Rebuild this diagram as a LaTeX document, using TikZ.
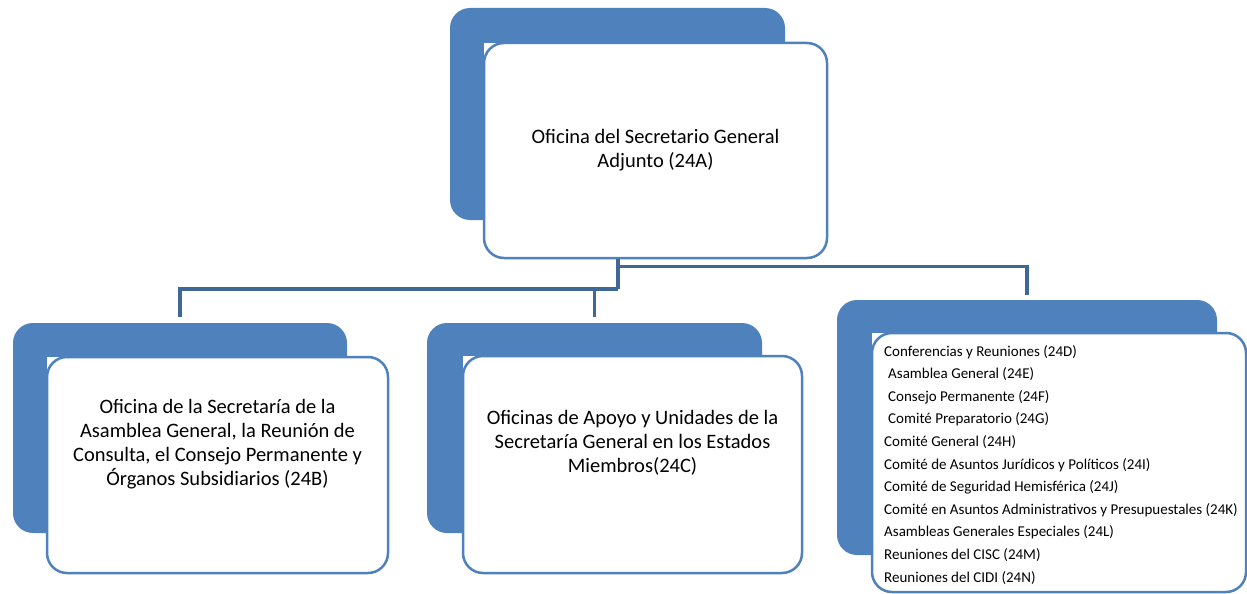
\documentclass[tikz,border=0pt]{standalone}
\usepackage{fontspec}
\setmainfont{Carlito}
\usetikzlibrary{positioning}
\definecolor{backblue}{HTML}{4F81BD}
\definecolor{linkblue}{HTML}{3F6896}

\begin{document}
\begin{tikzpicture}[x=1pt,y=-1pt,
		backbox/.style={fill=backblue,rounded corners=20pt,inner sep=0pt},
		whitebox/.style={draw=backblue,fill=white,line width=2.5pt,rounded corners=20pt,inner sep=0pt},
		boxtext/.style={align=center,font=\fontsize{20.5}{24}\selectfont},
		link/.style={draw=linkblue,line width=3.5pt}]
	\useasboundingbox (0,0) rectangle (1247,594);
	% Create the blue back shapes
	\node[backbox,minimum width=335pt,minimum height=212pt] (oa-back) at (617.5,114) {};
	\node[backbox,minimum width=334pt,minimum height=210pt] (ob-back) at (180,428) {};
	\node[backbox,minimum width=335pt,minimum height=210pt] (oc-back) at (594.5,428) {};
	\node[backbox,minimum width=380pt,minimum height=255pt] (od-back) at (1027,427.5) {};
	
	% White corners left over the back shapes
	\fill[white] (484,43) rectangle ++(14,14);
	\fill[white] (47,357) rectangle ++(14,14);
	\fill[white] (463,356) rectangle ++(14,14);
	\fill[white] (872,333) rectangle ++(14,14);
	
	% Create the white boxes
	\node[whitebox,minimum width=343pt,minimum height=215pt] (oa) at (655.5,150.5) {};
	\node[whitebox,minimum width=341pt,minimum height=216pt] (ob) at (217.5,465) {};
	\node[whitebox,minimum width=339pt,minimum height=217pt] (oc) at (632.5,464.5) {};
	\node[whitebox,minimum width=374pt,minimum height=259pt] (od) at (1059,462.5) {};
	
	% Add texts
	\node[boxtext] (oa-txt) at (oa.center) {Oficina del Secretario General\\Adjunto (24A)};
	\node[boxtext] (ob-txt) at ([yshift=21pt]ob.center) {Oficina de la Secretaría de la\\Asamblea General, la Reunión de\\Consulta, el Consejo Permanente y\\Órganos Subsidiarios (24B)};
	\node[boxtext] (oc-txt) at ([yshift=22pt]oc.center) {Oficinas de Apoyo y Unidades de la\\Secretaría General en los Estados\\Miembros(24C)};
	\node[align=left,anchor=north west,inner sep=0pt,font=\fontsize{15}{22.6}\selectfont] (od-txt) at (884,345) {Conferencias y Reuniones (24D)\\
		\hspace{4pt}Asamblea General (24E)\\
		\hspace{4pt}Consejo Permanente (24F)\\
		\hspace{4pt}Comité Preparatorio (24G)\\
		Comité General (24H)\\
		Comité de Asuntos Jurídicos y Políticos (24I)\\
		Comité de Seguridad Hemisférica (24J)\\
		Comité en Asuntos Administrativos y Presupuestales (24K)\\
		Asambleas Generales Especiales (24L)\\
		Reuniones del CISC (24M)\\
		Reuniones del CIDI (24N)};
	
	% Connectors
	\coordinate (j1) at (618,289);
	\draw[link] ([xshift=-37.5pt]oa.south) -- (j1);
	\draw[link] (j1) -| ([yshift=6pt]ob-back.north);
	\draw[link] (j1) -| ([yshift=6pt]oc-back.north);
	\draw[link] ([xshift=-37.5pt,yshift=-7pt]oa.south) -| ([yshift=5pt]od-back.north);
\end{tikzpicture}
\end{document}
